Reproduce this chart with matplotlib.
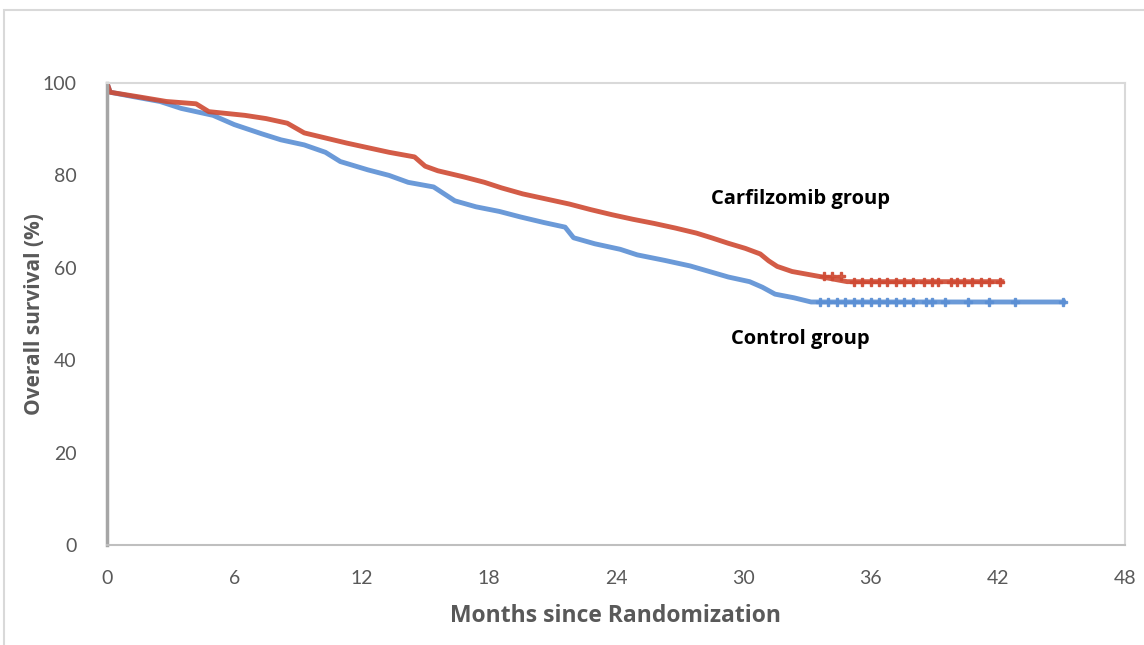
import matplotlib
matplotlib.use("Agg")
import matplotlib.pyplot as plt
from matplotlib.patches import Rectangle

plt.rcParams['font.family'] = ['Lato', 'DejaVu Sans']

# Carfilzomib group (red) - times (months) and survival (%)
carf_t = [0, 0.15, 1.5, 2.8, 4.2, 4.8, 6.5, 7.5, 8.5, 9.3, 10.3, 11.3, 12.3, 13.3,
          14.5, 15.0, 15.6, 16.8, 17.8, 18.6, 19.6, 20.6, 21.8, 22.8, 23.8, 24.8,
          25.8, 26.8, 27.8, 28.5, 29.3, 30.1, 30.8, 31.2, 31.6, 32.3, 33.5, 34.9, 42.2]
carf_s = [100, 98, 97, 96, 95.5, 93.8, 93, 92.3, 91.3, 89.2, 88.1, 87, 86, 85,
          84, 82, 81, 79.7, 78.5, 77.3, 76, 75, 73.8, 72.6, 71.5, 70.5,
          69.6, 68.6, 67.5, 66.5, 65.3, 64.2, 63, 61.5, 60.3, 59.2, 58.2, 57, 57]
carf_cens = [33.8, 34.2, 34.6, 35.2, 35.6, 36.0, 36.4, 36.8, 37.2, 37.6, 38.0, 38.5,
             38.9, 39.2, 39.8, 40.1, 40.4, 40.8, 41.2, 41.6, 42.1]

# Control group (blue)
ctrl_t = [0, 0.15, 1.3, 2.5, 3.5, 5.0, 6.0, 7.3, 8.2, 9.3, 10.3, 11.0, 12.3, 13.3,
          14.2, 15.4, 15.9, 16.4, 17.4, 18.5, 19.5, 20.6, 21.6, 22.0, 23.0, 24.2,
          25.0, 26.3, 27.5, 28.4, 29.3, 30.3, 30.9, 31.5, 32.4, 33.2, 45.1]
ctrl_s = [100, 98, 97, 96, 94.5, 93, 91, 89, 87.7, 86.6, 85, 83, 81.2, 80,
          78.5, 77.5, 76, 74.5, 73.2, 72.2, 71, 69.8, 68.8, 66.5, 65.2, 64,
          62.8, 61.6, 60.4, 59.2, 58, 57, 55.8, 54.3, 53.5, 52.6, 52.6]
ctrl_cens = [33.6, 34.0, 34.4, 34.8, 35.2, 35.6, 36.0, 36.4, 36.8, 37.2, 37.6, 38.0,
             38.6, 38.9, 39.5, 40.6, 41.6, 42.8, 45.1]

x_ticks = [0, 6, 12, 18, 24, 30, 36, 42, 48]
y_ticks = [0, 20, 40, 60, 80, 100]

red = '#cf4a33'
blue = '#5b8fd4'

fig = plt.figure(figsize=(11.44, 6.45), dpi=100)
ax = fig.add_axes([107/1144, 1 - 545/645, (1125 - 107)/1144, (545 - 83)/645])

# outer chart frame
fig.patches.append(Rectangle((4/1144, -0.1), 1.2, 1 - 10/645 + 0.1, transform=fig.transFigure,
                             fill=False, edgecolor='#d9d9d9', lw=1.5))


def surv_at(t, times, vals):
    v = vals[0]
    for ti, vi in zip(times, vals):
        if ti <= t:
            v = vi
    return v


ax.plot(ctrl_t, ctrl_s, color=blue, lw=3.5, alpha=0.9)
ax.plot(ctrl_cens, [surv_at(c, ctrl_t, ctrl_s) for c in ctrl_cens], ls='none',
        marker='P', ms=6, color=blue, alpha=0.9)
ax.plot(carf_t, carf_s, color=red, lw=3.5, alpha=0.9)
ax.plot(carf_cens, [surv_at(c, carf_t, carf_s) for c in carf_cens], ls='none',
        marker='P', ms=6, color=red, alpha=0.9)

ax.text(28.5, 74.9, 'Carfilzomib group', fontsize=14.5, fontweight='bold', va='center', ha='left',
        family='Open Sans')
ax.text(29.4, 44.6, 'Control group', fontsize=14.5, fontweight='bold', va='center', ha='left',
        family='Open Sans')

ax.set_xlim(0, 48)
ax.set_ylim(0, 100)
ax.set_xticks(x_ticks)
ax.set_yticks(y_ticks)
ax.tick_params(length=0, labelsize=14, labelcolor='#595959')
ax.tick_params(axis='x', pad=18)
ax.tick_params(axis='y', pad=22)
for s in ['top', 'right']:
    ax.spines[s].set_color('#d9d9d9')
    ax.spines[s].set_linewidth(1.5)
ax.spines['bottom'].set_color('#bfbfbf')
ax.spines['bottom'].set_linewidth(1.5)
ax.spines['left'].set_color('#a6a6a6')
ax.spines['left'].set_linewidth(2.5)

ax.set_xlabel('Months since Randomization', fontsize=16.5, fontweight='bold', color='#595959',
              labelpad=12, family='Open Sans')
ax.set_ylabel('Overall survival (%)', fontsize=15, fontweight='bold', color='#595959',
              family='Open Sans')
ax.yaxis.set_label_coords(-(107 - 45) / 1018, 0.5)

fig.savefig('out.png', dpi=100)
